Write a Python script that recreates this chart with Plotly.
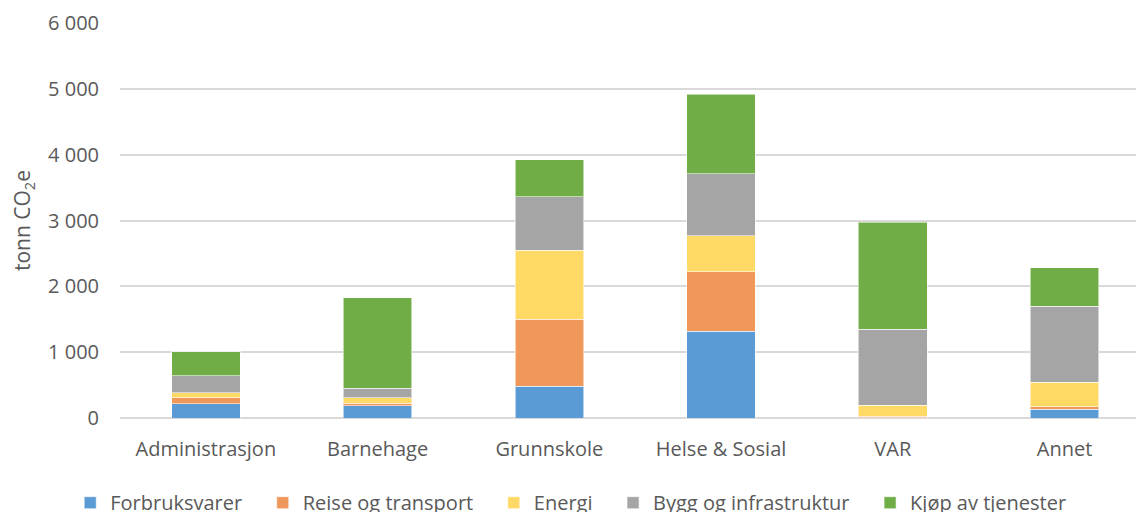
import plotly.graph_objects as go

# Emissions by sector (tonn CO2e), stacked by category
sectors = ["Administrasjon", "Barnehage", "Grunnskole", "Helse & Sosial", "VAR", "Annet"]

forbruksvarer = [220, 185, 480, 1320, 5, 130]
reise_transport = [85, 40, 1020, 900, 25, 40]
energi = [80, 85, 1050, 550, 160, 370]
bygg_infrastruktur = [255, 145, 810, 940, 1160, 1160]
kjop_tjenester = [365, 1375, 560, 1210, 1620, 580]

y_ticks = [0, 1000, 2000, 3000, 4000, 5000, 6000]
y_tick_labels = ["0", "1 000", "2 000", "3 000", "4 000", "5 000", "6 000"]

series = [
    ("Forbruksvarer", forbruksvarer, "#5B9BD5"),
    ("Reise og transport", reise_transport, "#F0975A"),
    ("Energi", energi, "#FFD966"),
    ("Bygg og infrastruktur", bygg_infrastruktur, "#A5A5A5"),
    ("Kjøp av tjenester", kjop_tjenester, "#70AD47"),
]

FONT = "Open Sans"
TEXT_COLOR = "#595959"
PAD = "\u00a0\u00a0\u00a0"  # extra room after each legend entry

fig = go.Figure()
for name, values, color in series:
    fig.add_trace(go.Bar(
        name=name + PAD,
        x=sectors,
        y=values,
        marker=dict(color=color, line=dict(color="rgba(255,255,255,0.55)", width=1)),
    ))

fig.update_layout(
    barmode="stack",
    bargap=0.6,
    width=1136,
    height=512,
    margin=dict(l=120, r=0, t=23, b=94, autoexpand=False),
    paper_bgcolor="white",
    plot_bgcolor="white",
    font=dict(family=FONT, size=20, color=TEXT_COLOR),
    showlegend=True,
    legend=dict(
        orientation="h",
        x=-0.049, xanchor="left",
        y=-0.165, yanchor="top",
        font=dict(family=FONT, size=20, color=TEXT_COLOR),
        traceorder="normal",
        itemwidth=30,
        entrywidth=0,
        tracegroupgap=0,
    ),
    xaxis=dict(
        range=[-0.5, 5.416],
        showgrid=False,
        showline=False,
        ticks="",
        automargin=False,
        ticklabelstandoff=17,
        tickfont=dict(family=FONT, size=20, color=TEXT_COLOR),
    ),
    yaxis=dict(
        range=[0, 6000],
        tickvals=y_ticks,
        ticktext=y_tick_labels,
        showgrid=True,
        gridcolor="#D9D9D9",
        gridwidth=1.5,
        zeroline=True,
        zerolinecolor="#D9D9D9",
        zerolinewidth=1.5,
        showline=False,
        ticks="",
        automargin=False,
        ticklabelstandoff=20,
        tickfont=dict(family=FONT, size=20, color=TEXT_COLOR),
        title=dict(text="tonn CO<sub>2</sub>e", standoff=11,
                   font=dict(family=FONT, size=21, color=TEXT_COLOR)),
    ),
)

fig.write_html("out.html")
